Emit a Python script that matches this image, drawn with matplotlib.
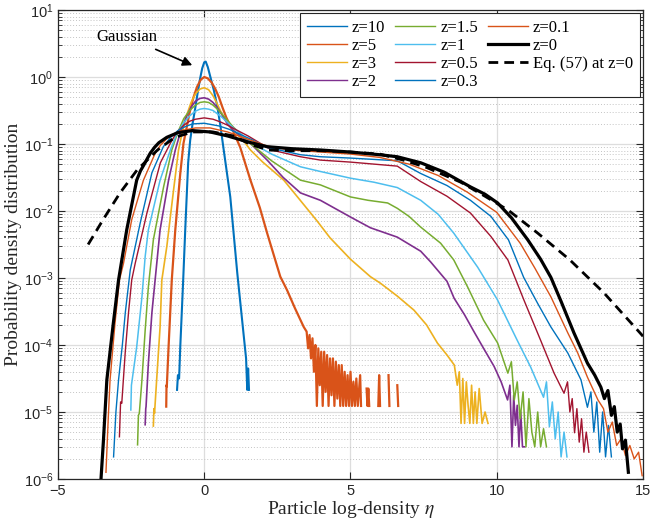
import numpy as np
import matplotlib.pyplot as plt
from matplotlib.lines import Line2D
from matplotlib.ticker import FixedLocator, NullFormatter, NullLocator

plt.rcParams['font.family'] = 'Liberation Serif'

nan = np.nan

# log10 of the pdf, sampled along eta, for each redshift
eta_z10 = [-0.93, -0.9, -0.86, -0.82, -0.72, -0.65, -0.55, -0.48, -0.4, -0.31, -0.22, -0.14, -0.07, 0.0,
           0.05, 0.12, 0.21, 0.33, 0.45, 0.55, 0.65, 0.89, 1.13, 1.34, 1.43, 1.47, 1.5, 1.53]
logp_z10 = [-4.67, -4.45, -4.5, -4.03, -3.03, -2.28, -1.28, -0.94, -0.7, -0.47, -0.22, -0.02, 0.13, 0.22,
            0.23, 0.15, 0.0, -0.2, -0.45, -0.72, -1.04, -1.79, -2.93, -3.82, -4.2, -4.67, -4.35, -4.67]

eta_z5 = [-1.3, -1.29, -1.28, -1.22, -1.11, -0.99, -0.82, -0.71, -0.6, -0.5, -0.38, -0.25, -0.12, 0.0,
          0.12, 0.25, 0.38, 0.5, 0.62, 0.75, 0.88, 1.0, 1.23, 1.58, 1.9, 2.15, 2.6, 2.83, 3.1, 3.4,
          3.5, 3.55, 3.6, 3.65, 3.7, 3.75, 3.8, 3.85, 3.9, 3.95, 4.0, 4.05, 4.1, 4.15, 4.2, 4.25, 4.3,
          4.35, 4.4, 4.45, 4.5, 4.55, 4.6, 4.65, 4.7, 4.75, 4.8, 4.85, 4.9, 4.95, 5.0, 5.05, 5.1, 5.15,
          5.2, 5.25, 5.33, 5.36, 5.45, 5.55, 5.58, 5.61, 5.64, 5.7, 5.95, 5.98, 6.01, 6.1, 6.3, 6.33,
          6.4, 6.6, 6.63]
logp_z5 = [-4.92, -4.6, -4.62, -4.03, -3.03, -2.28, -1.44, -0.99, -0.75, -0.53, -0.32, -0.15, -0.04,
           0.0, -0.02, -0.08, -0.18, -0.3, -0.45, -0.6, -0.72, -0.82, -1.05, -1.54, -1.95, -2.33, -2.98,
           -3.18, -3.45, -3.73, -3.8, -4.05, -3.85, -4.2, -3.9, -4.4, -4.0, -4.91, -4.05, -4.6, -4.1,
           -4.91, -4.1, -4.7, -4.15, -4.91, -4.2, -4.75, -4.2, -4.91, -4.25, -4.8, -4.3, -4.91, -4.3,
           -4.91, -4.4, -4.91, -4.45, -4.91, -4.4, -4.91, -4.55, -4.91, -4.5, -4.91, -4.45, -4.91, nan,
           -4.65, -4.91, -4.65, -4.91, nan, -4.91, -4.45, -4.91, nan, -4.45, -4.91, nan, -4.6, -4.91]

eta_z3 = [-1.74, -1.72, -1.7, -1.62, -1.51, -1.45, -1.28, -1.05, -0.88, -0.75, -0.6, -0.45, -0.3, -0.15,
          0.0, 0.15, 0.3, 0.42, 0.55, 0.68, 0.8, 1.0, 1.34, 1.58, 2.0, 2.72, 3.3, 3.86, 4.3, 5.0, 5.68,
          6.03, 6.6, 7.17, 7.6, 7.97, 8.3, 8.55, 8.65, 8.72, 8.78, 8.84, 8.9, 8.96, 9.02, 9.08, 9.14,
          9.2, 9.26, 9.32, 9.4, 9.5, 9.6, 9.7]
logp_z3 = [-5.21, -4.95, -5.02, -4.47, -3.73, -3.03, -2.53, -1.69, -1.09, -0.82, -0.57, -0.38, -0.25,
           -0.18, -0.16, -0.19, -0.28, -0.38, -0.5, -0.61, -0.7, -0.8, -0.95, -1.09, -1.27, -1.54,
           -1.85, -2.15, -2.4, -2.72, -2.98, -3.08, -3.27, -3.48, -3.7, -3.97, -4.15, -4.3, -4.6, -4.4,
           -5.17, -4.5, -5.17, -4.55, -4.9, -5.17, -4.6, -5.17, -4.7, -5.17, -4.65, -5.17, -5.0, -5.17]

eta_z2 = [-2.02, -2.0, -1.99, -1.91, -1.79, -1.68, -1.51, -1.22, -0.99, -0.8, -0.6, -0.45, -0.3, -0.15,
          0.0, 0.15, 0.3, 0.45, 0.6, 0.78, 1.0, 1.6, 2.15, 2.7, 3.29, 3.97, 5.0, 5.68, 6.6, 7.4, 7.74,
          8.3, 8.54, 8.9, 9.22, 9.55, 9.91, 10.15, 10.37, 10.45, 10.52, 10.58, 10.64, 10.7, 10.76,
          10.82, 10.88, 10.95]
logp_z2 = [-5.19, -4.95, -4.92, -4.27, -3.52, -3.03, -2.28, -1.54, -1.09, -0.8, -0.58, -0.45, -0.36,
           -0.32, -0.31, -0.33, -0.38, -0.46, -0.56, -0.69, -0.8, -1.0, -1.24, -1.5, -1.73, -1.84,
           -2.09, -2.25, -2.39, -2.6, -2.76, -3.05, -3.3, -3.55, -3.8, -4.05, -4.32, -4.55, -4.82,
           -4.6, -5.52, -4.75, -5.2, -4.9, -5.52, -5.0, -5.52, -5.52]

eta_z15 = [-2.28, -2.25, -2.22, -2.13, -2.02, -1.91, -1.74, -1.39, -1.11, -0.9, -0.7, -0.5, -0.3, -0.15,
           0.0, 0.15, 0.3, 0.45, 0.6, 0.8, 1.0, 1.6, 2.3, 3.29, 3.97, 5.0, 5.6, 6.27, 6.6, 7.0, 7.4,
           8.08, 8.53, 9.0, 9.55, 10.03, 10.38, 10.5, 10.6, 10.7, 10.8, 10.9, 11.0, 11.1, 11.2, 11.3,
           11.4, 11.5, 11.6, 11.7]
logp_z15 = [-5.49, -5.05, -5.02, -4.52, -3.78, -3.13, -2.43, -1.64, -1.09, -0.82, -0.62, -0.5, -0.42,
            -0.38, -0.37, -0.38, -0.42, -0.48, -0.55, -0.65, -0.75, -1.0, -1.25, -1.54, -1.61, -1.79,
            -1.84, -1.88, -1.96, -2.08, -2.24, -2.48, -2.73, -3.13, -3.63, -3.97, -4.42, -4.25, -4.82,
            -4.55, -5.1, -4.7, -5.52, -4.8, -5.3, -5.52, -5.0, -5.52, -5.25, -5.52]

eta_z1 = [-2.51, -2.49, -2.48, -2.31, -2.13, -2.02, -1.91, -1.51, -1.16, -0.95, -0.7, -0.5, -0.3, -0.15,
          0.0, 0.15, 0.3, 0.45, 0.6, 0.8, 1.0, 1.6, 2.3, 3.29, 3.97, 5.0, 5.8, 6.6, 7.4, 8.0, 8.53, 9.35,
          10.03, 10.7, 11.16, 11.6, 11.7, 11.8, 11.9, 12.0, 12.1, 12.2, 12.3, 12.4]
logp_z1 = [-4.97, -4.6, -4.57, -4.03, -3.28, -2.68, -2.28, -1.54, -1.09, -0.86, -0.68, -0.58, -0.51,
           -0.48, -0.47, -0.48, -0.5, -0.55, -0.6, -0.68, -0.76, -0.98, -1.15, -1.34, -1.41, -1.51,
           -1.57, -1.65, -1.84, -2.05, -2.33, -2.84, -3.33, -3.93, -4.33, -4.78, -4.55, -5.22, -4.85,
           -5.4, -5.0, -5.67, -5.3, -5.67]

eta_z05 = [-2.9, -2.86, -2.82, -2.7, -2.59, -2.48, -2.36, -1.96, -1.5, -1.16, -0.95, -0.7, -0.5, -0.3,
           0.0, 0.3, 0.55, 0.8, 1.1, 1.5, 2.3, 3.29, 3.97, 5.0, 6.6, 7.4, 8.3, 9.1, 9.8, 10.38, 10.93,
           11.5, 11.96, 12.3, 12.42, 12.5, 12.58, 12.66, 12.74, 12.82, 12.9, 12.98, 13.06, 13.15]
logp_z05 = [-5.37, -4.85, -4.87, -4.1, -3.52, -3.03, -2.78, -2.03, -1.28, -0.99, -0.83, -0.72, -0.66,
            -0.63, -0.61, -0.63, -0.67, -0.72, -0.79, -0.88, -1.09, -1.19, -1.24, -1.27, -1.33, -1.56,
            -1.78, -2.03, -2.38, -2.73, -3.33, -3.93, -4.42, -4.72, -4.55, -5.0, -4.8, -5.31, -4.95,
            -5.45, -5.1, -5.6, -5.3, -5.6]

eta_z03 = [-3.1, -3.02, -2.93, -2.8, -2.7, -2.53, -2.19, -1.79, -1.4, -1.15, -0.9, -0.65, -0.4, 0.0, 0.5,
           0.85, 1.2, 1.65, 2.15, 3.29, 3.97, 5.0, 6.6, 7.4, 8.3, 9.1, 9.8, 10.4, 10.92, 11.4, 11.85,
           12.43, 12.88, 13.1, 13.22, 13.32, 13.42, 13.52, 13.62, 13.72, 13.82, 13.92]
logp_z03 = [-5.67, -5.0, -4.52, -4.0, -3.52, -2.88, -2.18, -1.43, -1.04, -0.9, -0.8, -0.74, -0.7, -0.69,
            -0.73, -0.78, -0.85, -0.94, -1.05, -1.16, -1.19, -1.21, -1.25, -1.44, -1.62, -1.84, -2.08,
            -2.43, -2.99, -3.38, -3.73, -4.12, -4.52, -4.93, -4.7, -5.3, -4.85, -5.6, -5.0, -5.67,
            -5.2, -5.67]

eta_z01 = [-3.36, -3.28, -3.22, -3.05, -2.9, -2.76, -2.48, -2.08, -1.68, -1.5, -1.3, -1.05, -0.8, -0.3,
           0.2, 0.8, 1.5, 2.15, 3.0, 4.0, 5.0, 6.0, 7.0, 8.0, 9.0, 10.0, 10.8, 11.3, 11.85, 12.43, 12.77,
           13.1, 13.46, 13.65, 13.8, 13.95, 14.1, 14.25, 14.4, 14.55, 14.7, 14.85, 14.97]
logp_z01 = [-5.9, -5.07, -4.52, -3.67, -3.03, -2.78, -2.13, -1.54, -1.14, -1.02, -0.93, -0.85, -0.8,
            -0.76, -0.76, -0.82, -0.93, -1.03, -1.09, -1.12, -1.15, -1.2, -1.3, -1.47, -1.72, -2.02,
            -2.48, -2.85, -3.28, -3.82, -4.12, -4.48, -4.82, -4.95, -5.3, -5.15, -5.5, -5.4, -5.65,
            -5.5, -5.7, -5.6, -5.95]

eta_z0 = [-3.53, -3.45, -3.33, -3.11, -2.93, -2.65, -2.31, -2.18, -2.05, -1.95, -1.85, -1.7, -1.55,
          -1.28, -0.9, -0.4, 0.2, 0.8, 1.5, 2.15, 3.0, 4.0, 5.0, 6.0, 6.6, 7.4, 8.2, 9.1, 9.6, 10.03,
          10.5, 11.06, 11.5, 11.85, 12.2, 12.64, 13.1, 13.35, 13.56, 13.68, 13.8, 13.92, 14.02, 14.12,
          14.22, 14.3, 14.4, 14.5]
logp_z0 = [-6.0, -5.45, -4.52, -3.68, -3.03, -2.28, -1.54, -1.4, -1.3, -1.22, -1.14, -1.05, -0.98, -0.9,
           -0.83, -0.8, -0.82, -0.88, -0.97, -1.04, -1.07, -1.09, -1.12, -1.16, -1.19, -1.28, -1.42,
           -1.64, -1.75, -1.88, -2.1, -2.43, -2.72, -2.99, -3.35, -3.82, -4.27, -4.45, -4.63, -4.8,
           -4.68, -5.05, -4.92, -5.3, -5.18, -5.55, -5.42, -5.9]

# analytic prediction, Eq. (57) at z=0
eta_eq57 = [-3.97, -3.46, -2.88, -2.3, -1.6, -1.0, -0.4, 0.3, 1.0, 1.6, 2.2, 3.0, 4.0, 5.0, 6.0, 6.8, 7.6,
            8.77, 9.6, 10.4, 11.4, 12.5, 13.66, 14.9, 15.0]
logp_eq57 = [-2.5, -2.13, -1.73, -1.39, -1.09, -0.9, -0.82, -0.82, -0.88, -1.01, -1.09, -1.1, -1.1, -1.12,
             -1.15, -1.24, -1.35, -1.57, -1.78, -1.99, -2.33, -2.73, -3.22, -3.82, -3.87]

labels = ['z=10', 'z=5', 'z=3', 'z=2', 'z=1.5', 'z=1', 'z=0.5', 'z=0.3', 'z=0.1', 'z=0',
          'Eq. (57) at z=0']
x_ticks = [-5, 0, 5, 10, 15]
decades = [-6, -5, -4, -3, -2, -1, 0, 1]

blue, orange, yellow = '#0072BD', '#D95319', '#EDB120'
purple, green, cyan, red = '#7E2F8E', '#77AC30', '#4DBEEE', '#A2142F'

series = [
    (eta_z10, logp_z10, blue, 1.5, '-'),
    (eta_z5, logp_z5, orange, 1.6, '-'),
    (eta_z3, logp_z3, yellow, 1.2, '-'),
    (eta_z2, logp_z2, purple, 1.2, '-'),
    (eta_z15, logp_z15, green, 1.1, '-'),
    (eta_z1, logp_z1, cyan, 1.1, '-'),
    (eta_z05, logp_z05, red, 1.0, '-'),
    (eta_z03, logp_z03, blue, 1.0, '-'),
    (eta_z01, logp_z01, orange, 1.0, '-'),
    (eta_z0, logp_z0, 'k', 2.3, '-'),
    (eta_eq57, logp_eq57, 'k', 2.0, '--'),
]

fig = plt.figure(figsize=(6.51, 5.22), dpi=100)
ax = fig.add_axes([0.0891, 0.0824, 0.8986, 0.8984])
ax.set_yscale('log')

handles = []
for eta, logp, c, lw, ls in series:
    p = 10.0 ** np.array(logp, dtype=float)
    line, = ax.plot(eta, p, color=c, lw=lw, ls=ls, zorder=3)
    if ls == '--':
        line.set_dashes((3.5, 2.2))
        handles.append(Line2D([], [], color=c, lw=lw, dashes=(3.5, 2.2)))
    else:
        handles.append(Line2D([], [], color=c, lw=lw if c == 'k' else 1.0))

ax.set_xlim(-5, 15)
ax.set_ylim(1e-6, 10)
ax.set_xticks(x_ticks)
ax.xaxis.set_minor_locator(NullLocator())
ax.set_yticks([10.0 ** d for d in decades])
ax.yaxis.set_minor_locator(FixedLocator([m * 10.0 ** d for d in decades[:-1] for m in range(2, 10)]))
ax.yaxis.set_minor_formatter(NullFormatter())

ax.set_axisbelow(True)
ax.grid(True, which='major', color='#dddddd', lw=0.9, ls='-')
ax.grid(True, which='minor', axis='y', color='#c4c4c4', lw=0.7, ls=(0, (1, 2)))

ax.tick_params(which='both', direction='in', top=True, right=True, colors='#262626',
               labelsize=10.5, labelfontfamily='Liberation Sans')
ax.tick_params(which='major', length=5, width=0.8)
ax.tick_params(which='minor', length=3, width=0.6)
for s in ax.spines.values():
    s.set_color('#262626')
    s.set_linewidth(0.9)

ax.set_ylabel('Probability density distribution', fontsize=14, color='#262626', labelpad=1)
ax.set_xlabel(r'Particle log-density $\eta$', fontsize=14, color='#262626',
              math_fontfamily='stix', labelpad=1)

leg = ax.legend(handles, labels, ncol=3, loc='upper right', bbox_to_anchor=(1, 1),
                borderaxespad=0.2, fontsize=12, fancybox=False, framealpha=1,
                edgecolor='#262626', handlelength=2.4, handletextpad=0.3,
                columnspacing=0.6, labelspacing=0.12, borderpad=0.4)
leg.get_frame().set_linewidth(0.8)

ax.annotate('Gaussian', xy=(-0.41, 1.5), xytext=(-2.64, 3.97), ha='center', va='center',
            fontsize=12, arrowprops=dict(arrowstyle='-|>', color='k', lw=1.2,
                                         mutation_scale=14, shrinkA=3, shrinkB=0))

fig.savefig('out.png', dpi=100)
